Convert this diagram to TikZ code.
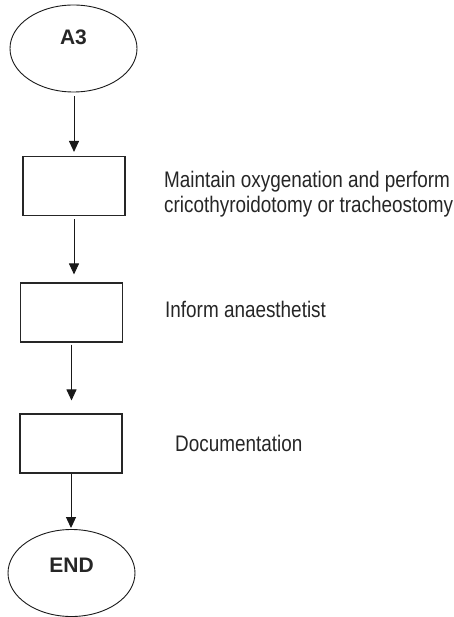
\documentclass[tikz,border=0pt]{standalone}
\usepackage{fontspec}
\setmainfont{Liberation Sans}
\newfontfamily\narrowsans[FakeStretch=0.84]{Liberation Sans}
\usetikzlibrary{arrows.meta,shapes.geometric}
\begin{document}
\begin{tikzpicture}[x=1pt,y=-1pt,
  terminal/.style={ellipse,draw=black!90,line width=0.9pt,minimum width=127pt,minimum height=87pt,
    inner sep=0pt,font=\fontsize{21}{25}\selectfont\bfseries,text=black!85,text height=15pt,text depth=18pt},
  stepbox/.style={rectangle,draw=black!85,line width=1.1pt,minimum width=102pt,minimum height=59pt,inner sep=0pt},
  note/.style={inner sep=0pt,align=left,font=\narrowsans\fontsize{22.5}{25}\selectfont,text=black!85},
  flow/.style={draw=black!90,line width=1pt,-{Triangle[width=10pt,length=11pt]}}]
  \useasboundingbox (0,0) rectangle (453,617);

  % start / end terminals
  \node[terminal,text depth=22pt] (a3) at (73.5,48.5) {A3};
  \node[terminal,text depth=17pt] (end) at (71.5,573) {END};

  % process steps
  \node[stepbox] (s1) at (74,186) {};
  \node[stepbox] (s2) at (71.5,312.5) {};
  \node[stepbox] (s3) at (71,443.5) {};

  % step descriptions
  \node[note,anchor=north west] (n1) at (164,171)
    {Maintain oxygenation and perform\\cricothyroidotomy or tracheostomy};
  \node[note,anchor=base west] (n2) at (165,317) {Inform anaesthetist};
  \node[note,anchor=base west] (n3) at (175,451) {Documentation};

  % flow arrows
  \draw[flow,shorten <=4pt,shorten >=4pt] (a3.south -| s1.north) -- (s1.north);
  \draw[flow,shorten <=3pt,shorten >=8pt] (s1.south) -- (s1.south |- s2.north);
  \draw[flow,shorten <=2pt,shorten >=13pt] (s2.south) -- (s2.south |- s3.north);
  \draw[flow,shorten <=0pt,shorten >=1pt] (s3.south) -- (s3.south |- end.north);
\end{tikzpicture}
\end{document}
